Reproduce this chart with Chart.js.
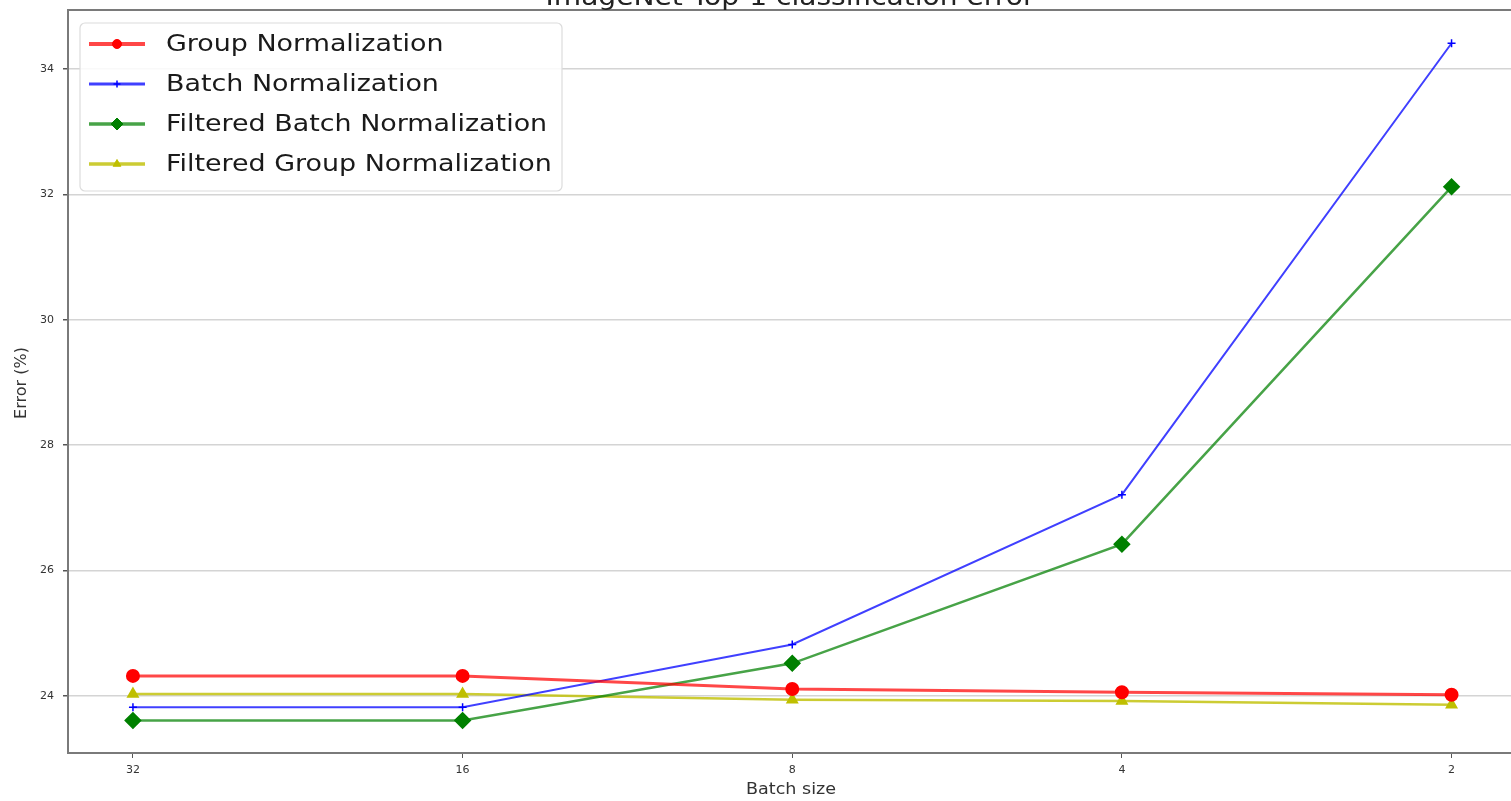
<!DOCTYPE html>
<html><head><meta charset="utf-8">
<script src="https://cdn.jsdelivr.net/npm/chart.js@4.4.1/dist/chart.umd.min.js"></script>
<style>html,body{margin:0;padding:0;background:#fff;overflow:hidden}#wrap{width:1526px;height:801px}</style>
</head><body><div id="wrap"><canvas id="c" width="1526" height="801"></canvas></div>
<script>
// Batch sizes along the x axis (largest to smallest)
const batchSizes = ['32', '16', '8', '4', '2'];
// Top-1 error (%) per normalization method
const groupNorm = [24.32, 24.32, 24.11, 24.06, 24.02];
const batchNorm = [23.82, 23.82, 24.82, 27.21, 34.41];
const filteredBatchNorm = [23.61, 23.61, 24.52, 26.42, 32.12];
const filteredGroupNorm = [24.03, 24.03, 23.94, 23.92, 23.86];
// Labelled y ticks
const yTicks = [24, 26, 28, 30, 32, 34];

const FONT = "'DejaVu Sans', sans-serif";
const TEXT_STRETCH = 1.17;
const pts = arr => arr.map((v, i) => ({ x: i, y: v }));

// Text drawn slightly widened horizontally
function wideText(ctx, text, x, y, size, align, stretch) {
  ctx.save();
  ctx.font = size + 'px ' + FONT;
  ctx.textAlign = 'left';
  const w = ctx.measureText(text).width * stretch;
  let x0 = x;
  if (align === 'center') x0 = x - w / 2;
  else if (align === 'right') x0 = x - w;
  ctx.translate(x0, y);
  ctx.scale(stretch, 1);
  ctx.fillText(text, 0, 0);
  ctx.restore();
}

// Axes frame: left, top and bottom spines (the right one runs off the page)
const frame = {
  id: 'frame',
  beforeDatasetsDraw(chart) {
    const { ctx, chartArea: a, width } = chart;
    ctx.save();
    ctx.strokeStyle = '#7a7a7a';
    ctx.lineWidth = 2;
    ctx.beginPath();
    ctx.moveTo(width, a.top);
    ctx.lineTo(a.left, a.top);
    ctx.lineTo(a.left, a.bottom);
    ctx.lineTo(width, a.bottom);
    ctx.stroke();
    ctx.restore();
  }
};

const legendMarker = [4.5, 3.5, 6, 4.5];

const textLayer = {
  id: 'textLayer',
  afterDraw(chart) {
    const { ctx } = chart;
    ctx.save();
    ctx.fillStyle = '#222';
    ctx.textBaseline = 'alphabetic';
    // Title (partly above the canvas top)
    wideText(ctx, 'ImageNet Top-1 classification error', 790, 5, 24, 'center', TEXT_STRETCH);

    // Axis titles
    ctx.fillStyle = '#333';
    ctx.textBaseline = 'middle';
    wideText(ctx, 'Batch size', 791, 790, 15, 'center', TEXT_STRETCH);
    ctx.save();
    ctx.translate(22, 383);
    ctx.rotate(-Math.PI / 2);
    ctx.font = '16px ' + FONT;
    ctx.textAlign = 'center';
    ctx.fillText('Error (%)', 0, 0);
    ctx.restore();

    // Legend box
    const bx = 80, by = 23, bw = 482, bh = 168, r = 5;
    ctx.beginPath();
    ctx.moveTo(bx + r, by);
    ctx.arcTo(bx + bw, by, bx + bw, by + bh, r);
    ctx.arcTo(bx + bw, by + bh, bx, by + bh, r);
    ctx.arcTo(bx, by + bh, bx, by, r);
    ctx.arcTo(bx, by, bx + bw, by, r);
    ctx.closePath();
    ctx.fillStyle = 'rgba(255,255,255,0.85)';
    ctx.fill();
    ctx.strokeStyle = '#dcdcdc';
    ctx.lineWidth = 1.2;
    ctx.stroke();

    const rowY = [44, 84, 124, 164];
    chart.data.datasets.forEach((ds, i) => {
      const y = rowY[i];
      ctx.strokeStyle = ds.borderColor;
      ctx.lineWidth = ds.borderWidth + 1;
      ctx.beginPath();
      ctx.moveTo(89, y);
      ctx.lineTo(145, y);
      ctx.stroke();
      ctx.fillStyle = ds.pointBackgroundColor;
      ctx.strokeStyle = ds.pointBorderColor;
      ctx.lineWidth = ds.pointBorderWidth || 1;
      Chart.helpers.drawPoint(ctx, {
        pointStyle: ds.pointStyle,
        radius: legendMarker[i],
        borderWidth: ds.pointBorderWidth || 1,
        rotation: 0
      }, 117, y);
      ctx.fillStyle = '#1a1a1a';
      ctx.textBaseline = 'middle';
      wideText(ctx, ds.label, 166, y + 1, 23, 'left', TEXT_STRETCH);
    });
    ctx.restore();
  }
};

new Chart(document.getElementById('c'), {
  type: 'line',
  data: {
    datasets: [
      {
        label: 'Group Normalization', data: pts(groupNorm),
        borderColor: 'rgba(255,0,0,0.72)', borderWidth: 3,
        pointStyle: 'circle', pointRadius: 5.5,
        pointBackgroundColor: '#ff0000', pointBorderColor: '#ff0000'
      },
      {
        label: 'Batch Normalization', data: pts(batchNorm),
        borderColor: 'rgba(0,0,255,0.75)', borderWidth: 2,
        pointStyle: 'cross', pointRadius: 4, pointBorderWidth: 1.5,
        pointBackgroundColor: '#0000ff', pointBorderColor: '#0000ff'
      },
      {
        label: 'Filtered Batch Normalization', data: pts(filteredBatchNorm),
        borderColor: 'rgba(0,128,0,0.72)', borderWidth: 2.5,
        pointStyle: 'rectRot', pointRadius: 7,
        pointBackgroundColor: '#008000', pointBorderColor: '#008000'
      },
      {
        label: 'Filtered Group Normalization', data: pts(filteredGroupNorm),
        borderColor: 'rgba(191,191,0,0.8)', borderWidth: 2.5,
        pointStyle: 'triangle', pointRadius: 5,
        pointBackgroundColor: '#bfbf00', pointBorderColor: '#bfbf00'
      }
    ]
  },
  options: {
    responsive: false,
    animation: false,
    devicePixelRatio: 1,
    layout: { padding: { top: 10, right: 4, left: 0, bottom: 0 } },
    plugins: { legend: { display: false }, tooltip: { enabled: false } },
    elements: { line: { tension: 0 } },
    scales: {
      x: {
        type: 'linear', min: -0.197, max: 4.197,
        afterBuildTicks: s => { s.ticks = batchSizes.map((_, i) => ({ value: i })); },
        afterFit: s => { s.height = 48; s.paddingLeft = 0; s.paddingRight = 0; },
        ticks: {
          callback: v => batchSizes[v], font: { family: FONT, size: 11 },
          color: '#333', padding: 6, maxRotation: 0
        },
        grid: { drawOnChartArea: false, drawTicks: true, tickLength: 5, tickColor: '#555' },
        border: { display: false }
      },
      y: {
        min: 23.09, max: 34.94,
        afterBuildTicks: s => { s.ticks = yTicks.map(v => ({ value: v })); },
        afterFit: s => { s.width = 68; s.paddingTop = 0; s.paddingBottom = 0; },
        ticks: { font: { family: FONT, size: 11 }, color: '#333', padding: 9 },
        grid: { color: '#d4d4d4', lineWidth: 1.5, tickLength: 5, tickColor: '#555' },
        border: { display: false }
      }
    }
  },
  plugins: [frame, textLayer]
});
</script>
</body></html>
